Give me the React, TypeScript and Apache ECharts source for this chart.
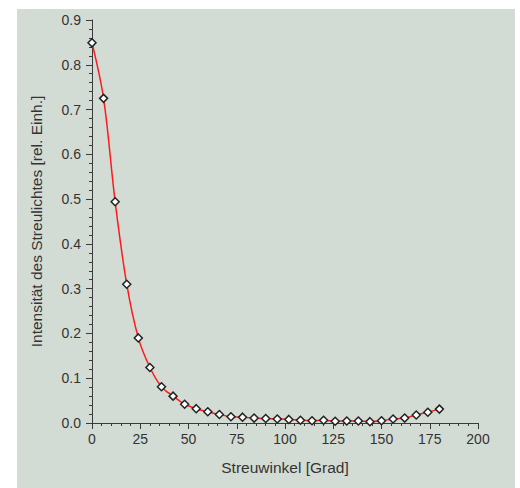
import React, { useEffect, useRef } from "react";
import * as echarts from "echarts";

const angles = [0, 6, 12, 18, 24, 30, 36, 42, 48, 54, 60, 66, 72, 78, 84, 90, 96, 102, 108, 114, 120, 126, 132, 138, 144, 150, 156, 162, 168, 174, 180];
const intensity = [0.849, 0.725, 0.494, 0.31, 0.19, 0.124, 0.081, 0.06, 0.042, 0.032, 0.025, 0.019, 0.014, 0.013, 0.011, 0.01, 0.009, 0.008, 0.006, 0.005, 0.006, 0.004, 0.0045, 0.0045, 0.003, 0.005, 0.009, 0.011, 0.018, 0.024, 0.031];

const xName = "Streuwinkel [Grad]";
const yName = "Intensität des Streulichtes [rel. Einh.]";

export default function App() {
  const ref = useRef<HTMLDivElement>(null);
  useEffect(() => {
    if (!ref.current) return;
    const chart = echarts.init(ref.current, undefined, { renderer: "svg" });
    const font = "Liberation Sans, Arial, sans-serif";
    const axisCol = "#3a3a3a";
    chart.setOption({
      animation: false,
      backgroundColor: "transparent",
      grid: { left: 75, right: 37, top: 11, bottom: 65 },
      xAxis: {
        type: "value",
        min: 0,
        max: 200,
        interval: 25,
        name: xName,
        nameLocation: "middle",
        nameGap: 36,
        nameTextStyle: { color: "#333", fontSize: 15.5, fontFamily: font },
        axisLine: { show: true, onZero: false, lineStyle: { color: axisCol, width: 1 } },
        axisTick: { show: true, length: 6, lineStyle: { color: axisCol } },
        minorTick: { show: true, splitNumber: 5, length: 3, lineStyle: { color: axisCol } },
        axisLabel: { color: "#333", fontSize: 14, fontFamily: font, margin: 9 },
        splitLine: { show: false },
      },
      yAxis: {
        type: "value",
        min: 0,
        max: 0.9,
        interval: 0.1,
        name: yName,
        nameLocation: "middle",
        nameGap: 48,
        nameTextStyle: { color: "#333", fontSize: 15.5, fontFamily: font },
        axisLine: { show: true, lineStyle: { color: axisCol, width: 1 } },
        axisTick: { show: true, length: 6, lineStyle: { color: axisCol } },
        minorTick: { show: true, splitNumber: 5, length: 3, lineStyle: { color: axisCol } },
        axisLabel: {
          color: "#333",
          fontSize: 14,
          fontFamily: font,
          margin: 11,
          formatter: (v: number) => v.toFixed(1),
        },
        splitLine: { show: false },
      },
      series: [
        {
          type: "line",
          data: angles.map((a, i) => [a, intensity[i]]),
          smooth: 0.35,
          symbol: "diamond",
          symbolSize: 8,
          showAllSymbol: true,
          lineStyle: { color: "#ff1a1a", width: 1.5 },
          itemStyle: { color: "#ffffff", borderColor: "#222", borderWidth: 1.5 },
        },
      ],
    });
    return () => chart.dispose();
  }, []);
  return (
    <div style={{ position: "fixed", left: 0, top: 0, width: 520, height: 488, background: "#ffffff" }}>
      <div style={{ position: "absolute", left: 17, top: 9, width: 498, height: 479, background: "#d3dcd4" }}>
        <div ref={ref} style={{ width: 498, height: 479 }} />
      </div>
    </div>
  );
}
